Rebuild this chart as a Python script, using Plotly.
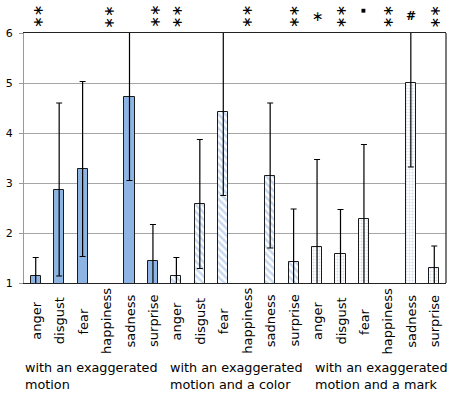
import plotly.graph_objects as go

# ---- data ----
emotions = ["anger", "disgust", "fear", "happiness", "sadness", "surprise"]
conditions = ["with an exaggerated<br>motion",
              "with an exaggerated<br>motion and a color",
              "with an exaggerated<br>motion and a mark"]
means_motion = [1.14, 2.87, 3.28, None, 4.72, 1.44]
sd_motion = [0.37, 1.73, 1.75, None, 1.67, 0.73]
means_color = [1.15, 2.58, 4.43, None, 3.15, 1.43]
sd_color = [0.36, 1.29, 1.68, None, 1.45, 1.05]
means_mark = [1.72, 1.59, 2.29, None, 5.00, 1.30]
sd_mark = [1.75, 0.88, 1.48, None, 1.68, 0.44]
sig_motion = ["**", "", "", "**", "", "**"]
sig_color = ["**", "", "", "**", "", "**"]
sig_mark = ["*", "**", "·", "**", "#", "**"]
y_ticks = [1, 2, 3, 4, 5, 6]

FONT = "DejaVu Sans"
BLUE = "#8DB4E2"
n = len(emotions)
PH = 250  # plot height in px (for converting label offsets)
TOP = 33

fig = go.Figure()
series = [
    (means_motion, sd_motion, dict(color=BLUE)),
    (means_color, sd_color, dict(color="white", pattern=dict(shape="\\", fgcolor=BLUE, bgcolor="white", size=5, solidity=0.5))),
    (means_mark, sd_mark, dict(color="white", pattern=dict(shape=".", fgcolor="#A9BCD4", bgcolor="white", size=3, solidity=0.35))),
]
for g, (m, s, mk) in enumerate(series):
    xs = [g * n + i for i in range(n)]
    mk = dict(mk)
    mk["line"] = dict(color="#1a1a1a", width=1)
    fig.add_trace(go.Bar(
        x=xs, y=m, width=0.43, marker=mk,
        error_y=dict(type="data", array=s, visible=True, color="black", thickness=1.2, width=3),
        showlegend=False, hoverinfo="skip",
    ))

annotations = []
# category labels (rotated, centered)
for g in range(3):
    for i, e in enumerate(emotions):
        annotations.append(dict(
            x=g * n + i, y=-38 / PH, xref="x", yref="paper",
            text=e, textangle=-90, showarrow=False, xanchor="center", yanchor="middle",
            font=dict(family=FONT, size=13, color="black"),
        ))
# group labels
shifts = [-1, 3, 8]
for g, c in enumerate(conditions):
    annotations.append(dict(
        x=g * n - 0.5, y=-93 / PH, xref="x", yref="paper", xshift=shifts[g],
        text=c, showarrow=False, xanchor="left", yanchor="middle", align="left",
        font=dict(family=FONT, size=12.8, color="black"),
    ))


def mark(x, py, text, size, xshift=0, angle=0):
    return dict(x=x, y=(PH + TOP - py) / PH, xref="x", yref="paper", xshift=xshift,
                text=text, showarrow=False, xanchor="center", yanchor="middle",
                textangle=angle, font=dict(family=FONT, size=size, color="black"))


# significance marks
for g, sig in enumerate([sig_motion, sig_color, sig_mark]):
    for i, s in enumerate(sig):
        if not s:
            continue
        x = g * n + i
        xs_ = 3 if g == 0 else 1
        if s == "**":
            # two stacked asterisks drawn as one vertical text
            annotations.append(mark(x, 16.5, "∗∗", 14, xs_, angle=90))
        elif s == "*":
            annotations.append(mark(x, 16, "∗", 14, xs_))
        elif s == "·":
            annotations.append(mark(x, 10, "■", 5))
        else:
            annotations.append(mark(x, 16, "<b>#</b>", 12))

fig.update_layout(
    width=454, height=395,
    margin=dict(l=24, r=8, t=TOP, b=112, autoexpand=False),
    paper_bgcolor="white", plot_bgcolor="white",
    font=dict(family=FONT, size=11, color="black"),
    bargap=0,
    annotations=annotations,
    shapes=[dict(type="line", xref="paper", yref="paper", x0=1, x1=1, y0=0, y1=1,
                 line=dict(color="#222222", width=1.2))],
    xaxis=dict(range=[-0.5, 3 * n - 0.5], showticklabels=False, ticks="",
               showgrid=False, zeroline=False,
               showline=True, linecolor="#222222", linewidth=1.2, mirror=True),
    yaxis=dict(range=[1, 6], tickvals=y_ticks, ticktext=[str(v) for v in y_ticks],
               ticks="outside", ticklen=4, tickcolor="#9a9a9a", automargin=False,
               ticklabelstandoff=4,
               showgrid=True, gridcolor="#a6a6a6", gridwidth=1.3,
               zeroline=False, showline=True, linecolor="#9a9a9a", linewidth=1.3,
               tickfont=dict(family=FONT, size=11, color="black")),
)

fig.write_html("out.html", config={"displayModeBar": False},
               post_script="document.body.style.margin='0';document.body.style.padding='0';")
